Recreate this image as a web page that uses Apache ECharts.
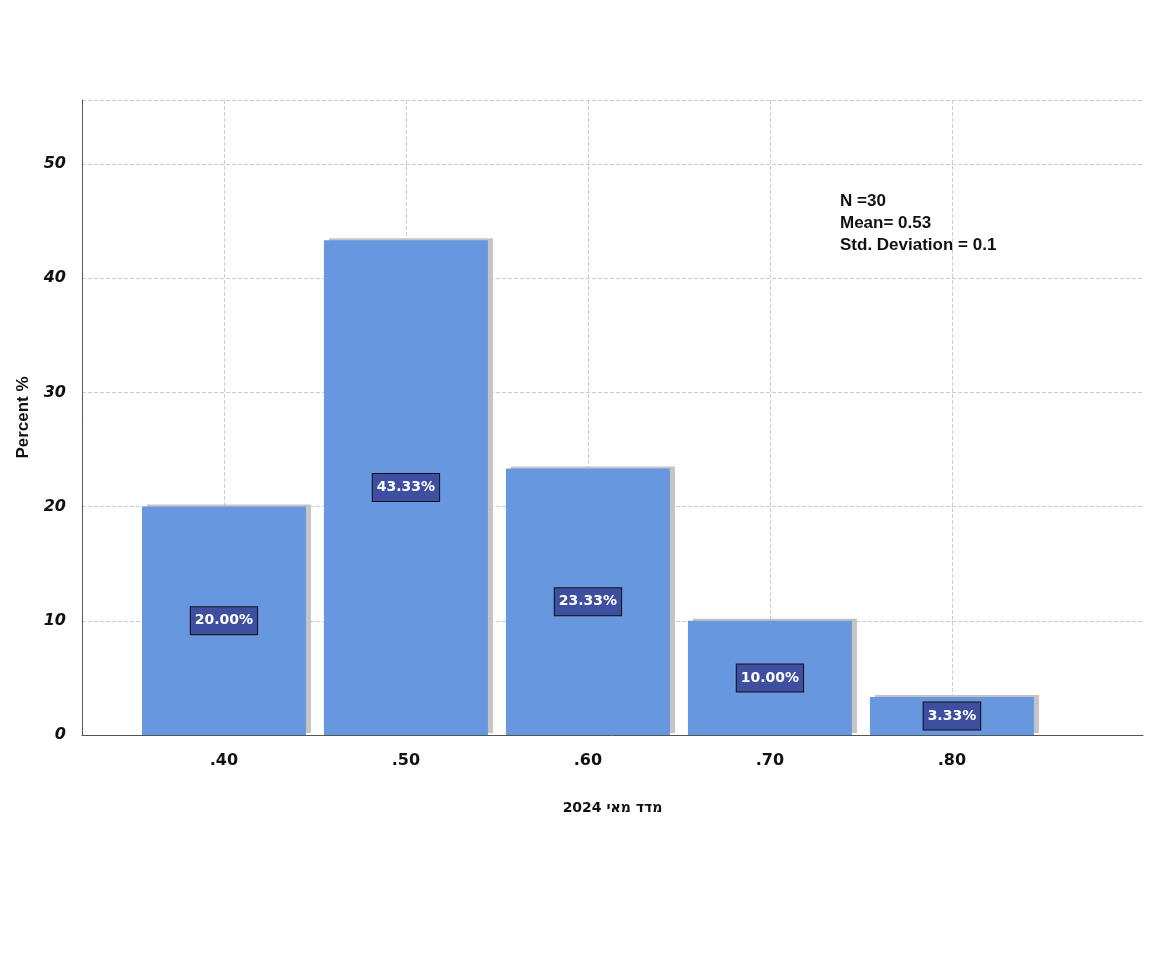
<!DOCTYPE html>
<html>
<head>
<meta charset="utf-8">
<style>
    html, body { margin: 0; padding: 0; background: #fff; }
    #echarts { width: 1170px; height: 957px; }
</style>
</head>
<body>
<div id="echarts"></div>
<script src="https://cdn.jsdelivr.net/npm/echarts@6/dist/echarts.min.js"></script>
<script>
    // data
    const binCenters = [0.4, 0.5, 0.6, 0.7, 0.8];
    const binLabels = ['.40', '.50', '.60', '.70', '.80'];
    const percents = [20.00, 43.33, 23.33, 10.00, 3.33];
    const yTicks = [0, 10, 20, 30, 40, 50];
    const statLines = ['N =30', 'Mean= 0.53', 'Std. Deviation = 0.1'];

    let myChart = echarts.init(document.getElementById('echarts'));

    myChart.setOption({
        animation: false,
        grid: { left: 82, right: 27, top: 100, bottom: 222 },
        xAxis: {
            type: 'value',
            min: 0.322,
            max: 0.905,
            axisLine: { lineStyle: { color: '#555' } },
            axisTick: { show: false, customValues: binCenters },
            axisLabel: {
                customValues: binCenters,
                formatter: v => binLabels[binCenters.findIndex(c => Math.abs(c - v) < 1e-6)] || '',
                color: '#111', fontWeight: 'bold', fontSize: 16, margin: 18,
                fontFamily: 'DejaVu Sans'
            },
            splitLine: { show: true, lineStyle: { color: '#ccc', type: 'dashed' } },
            name: 'מדד מאי 2024',
            nameLocation: 'middle',
            nameGap: 66,
            nameTextStyle: { color: '#111', fontWeight: 'bold', fontSize: 14, fontFamily: 'DejaVu Sans' }
        },
        yAxis: {
            type: 'value',
            min: 0,
            max: 55.6,
            interval: 10,
            axisLine: { show: true, lineStyle: { color: '#555' } },
            axisTick: { show: false },
            axisLabel: {
                formatter: v => yTicks.includes(v) ? String(v) : '',
                color: '#111', fontWeight: 'bold', fontStyle: 'italic', fontSize: 16, margin: 16,
                fontFamily: 'DejaVu Sans'
            },
            splitLine: { lineStyle: { color: '#ccc', type: 'dashed' } },
            name: 'Percent %',
            nameLocation: 'middle',
            nameGap: 50,
            nameTextStyle: { color: '#111', fontWeight: 'bold', fontSize: 17, fontFamily: 'Liberation Sans' }
        },
        series: [{
            type: 'bar',
            barWidth: 164,
            data: binCenters.map((c, i) => [c, percents[i]]),
            itemStyle: {
                color: '#6797DF',
                shadowColor: '#c4c4c4',
                shadowOffsetX: 5,
                shadowOffsetY: -2,
                shadowBlur: 0
            },
            label: {
                show: true,
                position: 'inside',
                formatter: p => p.value[1].toFixed(2) + '%',
                color: '#fff',
                fontWeight: 'bold',
                fontSize: 14,
                fontFamily: 'DejaVu Sans',
                backgroundColor: '#3F4FA0',
                borderColor: '#111',
                borderWidth: 1,
                padding: [7, 4, 6, 4]
            }
        }],
        graphic: [{
            type: 'text',
            left: 840, top: 190,
            style: {
                text: statLines.join('\n'),
                align: 'center',
                fill: '#111',
                font: 'bold 17px "Liberation Sans"',
                lineHeight: 22
            }
        }]
    });
</script>
</body>
</html>
